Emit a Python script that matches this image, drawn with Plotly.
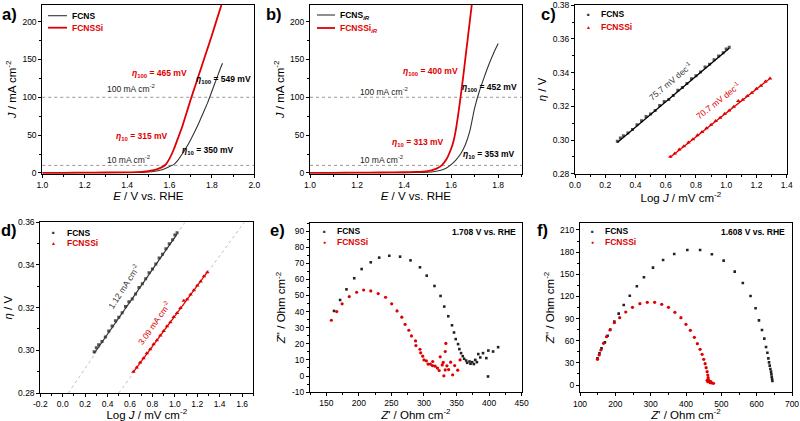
import plotly.graph_objects as go

W, H = 800, 421
RED = "#e00000"
BLK = "#333333"
GRY = "#8a8a8a"
FONT = "Liberation Sans, Arial, sans-serif"

# ---------------- data ----------------
# a) LSV (no iR)
a_E_fcns = [1.00, 1.10, 1.20, 1.30, 1.40, 1.45, 1.50, 1.53, 1.56, 1.58, 1.60, 1.62, 1.64, 1.66, 1.68,
            1.70, 1.72, 1.74, 1.76, 1.78, 1.80, 1.82, 1.84, 1.85]
a_J_fcns = [0.0, 0.1, 0.2, 0.3, 0.5, 0.7, 1.2, 2.2, 4.0, 6.0, 8.5, 11, 17, 25, 34,
            44, 55, 67, 80, 93, 108, 123, 138, 145]
a_E_fcnssi = [1.00, 1.10, 1.20, 1.30, 1.40, 1.45, 1.48, 1.50, 1.52, 1.54, 1.56, 1.58, 1.60, 1.62, 1.64,
              1.66, 1.68, 1.70, 1.72, 1.74, 1.76, 1.78, 1.80, 1.82, 1.845]
a_J_fcnssi = [0.0, 0.2, 0.5, 0.6, 0.8, 1.1, 1.6, 2.3, 3.3, 4.8, 7.0, 10.5, 19, 31, 46,
              61, 79, 97, 114, 131, 148, 165, 182, 200, 222]

# b) LSV (iR corrected)
b_E_fcns = [1.00, 1.10, 1.20, 1.30, 1.40, 1.45, 1.50, 1.53, 1.56, 1.58, 1.60, 1.62, 1.64, 1.66, 1.68,
            1.70, 1.72, 1.74, 1.76, 1.78, 1.80]
b_J_fcns = [0.0, 0.1, 0.2, 0.3, 0.4, 0.6, 1.0, 2.0, 4.0, 6.5, 11, 17, 25, 37, 56,
            86, 108, 126, 143, 158, 171]
b_E_fcnssi = [1.00, 1.10, 1.20, 1.30, 1.40, 1.45, 1.48, 1.50, 1.52, 1.54, 1.56, 1.58, 1.60, 1.61,
              1.62, 1.63, 1.64, 1.65, 1.66, 1.67, 1.68, 1.69]
b_J_fcnssi = [0.0, 0.2, 0.4, 0.6, 0.9, 1.3, 1.8, 2.5, 3.8, 6.0, 10, 18, 32, 42,
              57, 77, 100, 124, 150, 176, 202, 228]

ref_levels = [10, 100]
ref_labels = ["10 mA cm<sup>-2</sup>", "100 mA cm<sup>-2</sup>"]

# c/d) Tafel data
tafel_logJ_fcns = [0.28, 0.30, 0.32, 0.35, 0.38, 0.41, 0.44, 0.47, 0.50, 0.53, 0.56, 0.59, 0.62, 0.65,
                   0.68, 0.71, 0.74, 0.77, 0.80, 0.83, 0.86, 0.89, 0.92, 0.95, 0.98, 1.00, 1.02]
tafel_eta_fcns = [0.2993, 0.3012, 0.3026, 0.3041, 0.3063, 0.3091, 0.3114, 0.3139, 0.3155, 0.3176,
                  0.3205, 0.3228, 0.3240, 0.3264, 0.3295, 0.3312, 0.3336, 0.3364, 0.3381, 0.3404,
                  0.3433, 0.3450, 0.3476, 0.3499, 0.3518, 0.3540, 0.3551]
tafel_logJ_fcnssi = [0.63, 0.66, 0.69, 0.72, 0.75, 0.78, 0.81, 0.84, 0.87, 0.90, 0.93, 0.96, 0.99,
                     1.02, 1.05, 1.08, 1.11, 1.14, 1.17, 1.20, 1.23, 1.26, 1.29]
tafel_eta_fcnssi = [0.2900, 0.2920, 0.2943, 0.2963, 0.2986, 0.3005, 0.3028, 0.3047, 0.3070, 0.3090,
                    0.3113, 0.3132, 0.3156, 0.3175, 0.3198, 0.3232, 0.3239, 0.3262, 0.3281, 0.3304,
                    0.3323, 0.3347, 0.3366]
fit_logJ_fcns = [0.28, 1.02]
fit_eta_fcns = [0.2985, 0.3545]
fit_logJ_fcnssi = [0.63, 1.29]
fit_eta_fcnssi = [0.2898, 0.3366]
ext_logJ_fcns = [0.05, 1.09]
ext_eta_fcns = [0.28, 0.36]
ext_logJ_fcnssi = [0.50, 1.62]
ext_eta_fcnssi = [0.28, 0.36]
tafel_slopes = ["75.7 mV dec<sup>-1</sup>", "70.7 mV dec<sup>-1</sup>"]
exch_currents = ["1.12 mA cm<sup>-2</sup>", "3.09 mA cm<sup>-2</sup>"]

# e) Nyquist at 1.708 V
e_zre_fcns = [161.9, 171.2, 181.0, 192.9, 204.3, 218.3, 231.2, 246.7, 263.3, 279.3, 293.8, 304.2,
              316.1, 325.4, 331.1, 337.3, 343.0, 346.1, 348.7, 352.3, 354.3, 356.9, 359.5, 361.6,
              364.7, 366.2, 369.9, 371.4, 374.0, 376.6, 378.7, 381.2, 383.3, 386.4, 390.6, 395.7,
              398.3, 398.8, 406.1, 413.8]
e_zim_fcns = [40.4, 47.2, 53.8, 60.7, 66.4, 70.6, 73.5, 74.7, 74.1, 71.8, 67.5, 62.3,
              55.9, 49.7, 43.1, 37.1, 31.5, 27.0, 22.9, 19.8, 16.7, 14.2, 12.3, 10.7,
              9.6, 8.2, 9.0, 7.6, 8.6, 7.4, 10.0, 8.6, 13.6, 11.5, 14.2, 11.1,
              -0.3, 15.8, 15.2, 17.9]
e_zre_fcnssi = [157.8, 166.0, 174.3, 185.2, 196.6, 207.4, 218.3, 229.7, 241.0, 250.4, 258.6, 265.9,
                271.0, 276.7, 280.8, 287.0, 287.6, 293.8, 294.9, 298.0, 300.0, 303.6, 306.2, 309.8,
                313.4, 313.0, 317.1, 320.7, 323.3, 324.9, 328.0, 329.5, 332.6, 333.6, 330.5, 332.6,
                335.2, 337.8, 340.9, 344.0, 347.1, 351.8, 355.4]
e_zim_fcnssi = [34.6, 40.0, 44.8, 49.3, 52.0, 53.4, 52.8, 51.2, 48.9, 44.8, 40.4, 36.5,
                32.1, 28.4, 24.9, 21.8, 18.9, 16.6, 14.4, 12.3, 10.0, 9.4, 7.4, 7.4,
                9.0, 6.5, 6.1, 4.9, 3.4, 11.9, 6.9, 8.4, 15.2, 20.2, 0.1, 3.8,
                6.3, 4.0, 8.6, 0.7, 6.5, 3.6, 10.0]

# f) Nyquist at 1.608 V
f_zre_fcns = [149.5, 155.2, 160.9, 170.4, 178.1, 185.7, 197.1, 209.5, 223.8, 240.9, 260.9, 280.9,
              306.6, 335.2, 366.6, 403.7, 439.9, 473.2, 506.5, 537.9, 560.8, 582.7, 596.9, 606.5,
              615.0, 621.7, 626.5, 630.3, 633.1, 635.0, 636.9, 638.8, 640.7, 641.7, 642.6, 643.6,
              644.5]
f_zim_fcns = [36.1, 42.9, 49.7, 57.8, 66.8, 75.0, 85.8, 96.7, 108.4, 121.0, 133.7, 145.9,
              159.0, 169.4, 177.5, 182.9, 182.9, 177.1, 168.5, 153.6, 138.2, 120.6, 103.9, 87.6,
              74.5, 62.8, 51.5, 43.8, 36.1, 30.7, 26.2, 21.7, 18.1, 14.5, 11.3, 8.1,
              5.4]
f_zre_fcnssi = [149.5, 154.3, 159.0, 166.6, 175.2, 184.7, 197.1, 212.3, 229.5, 248.5, 269.5, 290.4,
                311.3, 331.3, 350.4, 368.5, 385.6, 399.9, 412.3, 423.7, 432.2, 439.9, 445.6, 450.3,
                454.1, 457.0, 459.8, 461.7, 462.7, 463.6, 461.7, 466.5, 468.4, 473.2, 477.9, 459.8,
                470.3]
f_zim_fcnssi = [34.8, 40.7, 47.4, 56.5, 65.5, 74.5, 84.5, 91.2, 98.9, 105.2, 110.2, 112.0,
                112.0, 109.3, 105.2, 98.5, 91.2, 82.2, 74.1, 64.6, 56.0, 48.3, 41.6, 34.8,
                28.9, 23.5, 18.1, 13.6, 9.9, 6.8, 4.5, 5.4, 3.2, 2.7, 2.3, 6.3,
                4.5]

d_x_ticks = [-0.2, 0.0, 0.2, 0.4, 0.6, 0.8, 1.0, 1.2, 1.4, 1.6]
d_x_text = ["-0.2", "0.0", "0.2", "0.4", "0.6", "0.8", "1.0", "1.2", "1.4", "1.6"]
e_y_ticks = [-10, 0, 10, 20, 30, 40, 50, 60, 70, 80, 90]
e_y_text = ["-10", "0", "10", "20", "30", "40", "50", "60", "70", "80", "90"]


# ---------------- helpers ----------------
def xd(p0, p1):
    return [p0 / W, p1 / W]


def yd(top, bot):
    return [1 - bot / H, 1 - top / H]


def px(x):
    return x / W


def py(y):
    return 1 - y / H


fig = go.Figure()


def line(x, y, ax, color, width, dash="solid"):
    fig.add_trace(go.Scatter(x=x, y=y, mode="lines", xaxis="x" + ax, yaxis="y" + ax,
                             line=dict(color=color, width=width, dash=dash, shape="spline", smoothing=0.6),
                             showlegend=False, hoverinfo="skip"))


def pts(x, y, ax, color, symbol, size):
    fig.add_trace(go.Scatter(x=x, y=y, mode="markers", xaxis="x" + ax, yaxis="y" + ax,
                             marker=dict(color=color, symbol=symbol, size=size, line=dict(width=0)),
                             showlegend=False, hoverinfo="skip"))


# a
line(a_E_fcns, a_J_fcns, "", BLK, 1.1)
line(a_E_fcnssi, a_J_fcnssi, "", RED, 1.8)
# b
line(b_E_fcns, b_J_fcns, "2", BLK, 1.1)
line(b_E_fcnssi, b_J_fcnssi, "2", RED, 1.8)
# c
pts(tafel_logJ_fcns, tafel_eta_fcns, "3", "#555555", "square", 3)
pts(tafel_logJ_fcnssi, tafel_eta_fcnssi, "3", RED, "triangle-up", 4)
line(fit_logJ_fcns, fit_eta_fcns, "3", "black", 1.3)
line(fit_logJ_fcnssi, fit_eta_fcnssi, "3", RED, 1.3)
# d
line(ext_logJ_fcns, ext_eta_fcns, "4", "#b0b0b0", 0.8, "dot")
line(ext_logJ_fcnssi, ext_eta_fcnssi, "4", "#b0b0b0", 0.8, "dot")
pts(tafel_logJ_fcns, tafel_eta_fcns, "4", "#555555", "square", 3)
pts(tafel_logJ_fcnssi, tafel_eta_fcnssi, "4", RED, "triangle-up", 4)
line(fit_logJ_fcns, fit_eta_fcns, "4", "#333333", 1.2)
line(fit_logJ_fcnssi, fit_eta_fcnssi, "4", RED, 1.2)
# e
pts(e_zre_fcns, e_zim_fcns, "5", "#222222", "square", 2.6)
pts(e_zre_fcnssi, e_zim_fcnssi, "5", RED, "circle", 3.2)
# f
pts(f_zre_fcns, f_zim_fcns, "6", "#222222", "square", 2.6)
pts(f_zre_fcnssi, f_zim_fcnssi, "6", RED, "circle", 3.2)

# reference lines in a/b
for ax in ["", "2"]:
    for lv in ref_levels:
        fig.add_shape(type="line", xref=("x" + ax) + " domain", yref="y" + ax, x0=0, x1=1, y0=lv, y1=lv,
                      line=dict(color=GRY, width=0.9, dash="dot"), layer="below")

base_ax = dict(showline=True, linecolor="black", linewidth=1, mirror=True, ticks="outside", ticklen=3,
               tickwidth=1, tickcolor="black", tickfont=dict(size=8.5, color="black", family=FONT),
               showgrid=False, zeroline=False, automargin=False)


def axis(domain, rng, dtick, minor, title, standoff, fmt=None, anchor=None, **kw):
    d = dict(base_ax)
    d.update(domain=domain, range=rng, dtick=dtick,
             minor=dict(dtick=minor, ticks="outside", ticklen=2, tickcolor="black"))
    d["title"] = dict(text=title, standoff=standoff, font=dict(size=11.5, color="black", family=FONT))
    if fmt:
        d["tickformat"] = fmt
    if anchor:
        d["anchor"] = anchor
    d.update(kw)
    return d


EA = "<i>E</i> / V vs. RHE"
JA = "<i>J</i> / mA cm<sup>-2</sup>"
LJ = "Log <i>J</i> / mV cm<sup>-2</sup>"
ET = "<i>η</i> / V"
ZR = "<i>Z</i>' / Ohm cm<sup>-2</sup>"
ZI = "<i>Z</i>'' / Ohm cm<sup>-2</sup>"

fig.update_layout(
    width=W, height=H, margin=dict(l=0, r=0, t=0, b=0),
    paper_bgcolor="white", plot_bgcolor="white", showlegend=False,
    font=dict(family=FONT, color="black"),
    xaxis=axis(xd(42.3, 254.3), [1.0, 2.0], 0.2, 0.1, EA, 1, ".1f", anchor="y"),
    yaxis=axis(yd(5, 173.7), [-1, 222], 50, 25, JA, 3, anchor="x"),
    xaxis2=axis(xd(310, 521.7), [1.0, 1.9], 0.2, 0.1, EA, 1, ".1f", anchor="y2"),
    yaxis2=axis(yd(5, 173.7), [-1, 222], 50, 25, JA, 3, anchor="x2"),
    xaxis3=axis(xd(575, 786.7), [0, 1.4], 0.2, 0.1, LJ, 1, ".1f", anchor="y3"),
    yaxis3=axis(yd(5.3, 173.7), [0.28, 0.38], 0.02, 0.01, ET, 3, ".2f", anchor="x3"),
    xaxis4=axis(xd(40.3, 253.3), [-0.2, 1.7], None, 0.1, LJ, 1, anchor="y4",
                tickmode="array", tickvals=d_x_ticks, ticktext=d_x_text),
    yaxis4=axis(yd(222.3, 393), [0.28, 0.36], 0.02, 0.01, ET, 3, ".2f", anchor="x4"),
    xaxis5=axis(xd(310, 521.7), [125, 450], 50, 25, ZR, 1, anchor="y5"),
    yaxis5=axis(yd(223, 392.1), [-10, 95], None, 5, ZI, 3, anchor="x5",
                tickmode="array", tickvals=e_y_ticks, ticktext=e_y_text),
    xaxis6=axis(xd(580, 792), [100, 700], 100, 50, ZR, 1, anchor="y6"),
    yaxis6=axis(yd(222.6, 392.4), [-10, 220], 30, 15, ZI, 3, anchor="x6"),
)

ann = []


def txt(x, y, text, xref="paper", yref="paper", size=8, color="black", angle=0, xanchor="center", bold=False):
    if bold:
        text = "<b>" + text + "</b>"
    ann.append(dict(x=x, y=y, xref=xref, yref=yref, text=text, showarrow=False, textangle=angle,
                    font=dict(size=size, color=color, family=FONT), xanchor=xanchor, yanchor="middle"))


# panel labels
for lab, (lx, ly) in zip(["a)", "b)", "c)", "d)", "e)", "f)"],
                         [(9, 14), (274, 14), (548, 14), (9, 230), (277, 230), (542, 230)]):
    txt(px(lx), py(ly), lab, size=16.5, bold=True)

# a annotations
txt(1.418, 111, ref_labels[1], "x", "y", size=8.5, color="#222")
txt(1.407, 18.4, ref_labels[0], "x", "y", size=8.5, color="#222")
txt(1.551, 132, "<i>η</i><sub>100</sub> = 465 mV", "x", "y", size=8.5, color=RED, bold=True)
txt(1.470, 48.8, "<i>η</i><sub>10</sub> = 315 mV", "x", "y", size=8.5, color=RED, bold=True)
txt(1.855, 123, "<i>η</i><sub>100</sub> = 549 mV", "x", "y", size=8.5, color="black", bold=True)
txt(1.782, 30.3, "<i>η</i><sub>10</sub> = 350 mV", "x", "y", size=8.5, color="black", bold=True)
# b annotations
txt(1.315, 108, ref_labels[1], "x2", "y2", size=8.5, color="#222")
txt(1.302, 18.4, ref_labels[0], "x2", "y2", size=8.5, color="#222")
txt(1.512, 133.5, "<i>η</i><sub>100</sub> = 400 mV", "x2", "y2", size=8.5, color=RED, bold=True)
txt(1.457, 39.6, "<i>η</i><sub>10</sub> = 313 mV", "x2", "y2", size=8.5, color=RED, bold=True)
txt(1.765, 113.6, "<i>η</i><sub>100</sub> = 452 mV", "x2", "y2", size=8.5, color="black", bold=True)
txt(1.761, 25, "<i>η</i><sub>10</sub> = 353 mV", "x2", "y2", size=8.5, color="black", bold=True)
# c annotations
txt(0.632, 0.3348, tafel_slopes[0], "x3", "y3", size=8.5, color="#333", angle=-40)
txt(0.952, 0.3232, tafel_slopes[1], "x3", "y3", size=8.5, color=RED, angle=-38)
# d annotations
txt(0.55, 0.3298, exch_currents[0], "x4", "y4", size=8.5, color="#333", angle=-57)
txt(0.815, 0.3128, exch_currents[1], "x4", "y4", size=8.5, color=RED, angle=-55)
# e/f potentials
txt(px(518), py(231.7), "1.708 V vs. RHE", size=8.5, bold=True, xanchor="right")
txt(px(787), py(231.7), "1.608 V vs. RHE", size=8.5, bold=True, xanchor="right")

# legends (line samples for a/b)
for (x0, x1, y1, y2, tx, names) in [
    (48, 67, 15.7, 27.7, 70, ["FCNS", "FCNSSi"]),
    (317, 335, 15, 28, 338, ["FCNS<sub><i>iR</i></sub>", "FCNSSi<sub><i>iR</i></sub>"]),
]:
    fig.add_shape(type="line", xref="paper", yref="paper", x0=px(x0), x1=px(x1), y0=py(y1), y1=py(y1),
                  line=dict(color=BLK, width=1.1))
    fig.add_shape(type="line", xref="paper", yref="paper", x0=px(x0), x1=px(x1), y0=py(y2), y1=py(y2),
                  line=dict(color=RED, width=1.8))
    txt(px(tx), py(y1), names[0], size=8.5, bold=True, xanchor="left")
    txt(px(tx), py(y2), names[1], size=8.5, color=RED, bold=True, xanchor="left")

# legends (markers for c-f)
for (mx, y1, y2, tx, sym2) in [(588, 14.3, 26.7, 599, "▲"), (53.3, 232.7, 243.3, 65, "▲"),
                               (324.3, 231, 241.7, 335, "●"), (592.3, 231, 241.7, 603, "●")]:
    txt(px(mx), py(y1), "■", size=4.5, color="#333")
    txt(px(mx), py(y2), sym2, size=5, color=RED)
    txt(px(tx), py(y1), "FCNS", size=8.5, bold=True, xanchor="left")
    txt(px(tx), py(y2), "FCNSSi", size=8.5, color=RED, bold=True, xanchor="left")

fig.update_layout(annotations=ann)
fig.write_html("out.html", config={"displayModeBar": False},
               post_script="document.body.style.margin='0';document.body.style.overflow='hidden';")
